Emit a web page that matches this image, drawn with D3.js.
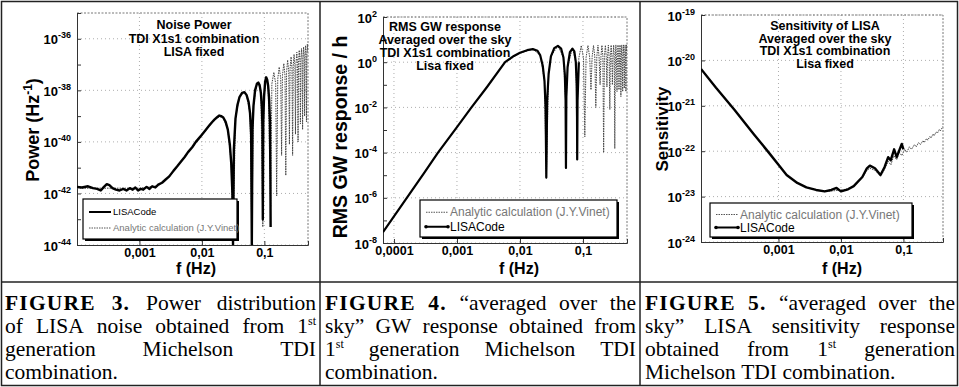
<!DOCTYPE html>
<html>
<head>
<meta charset="utf-8">
<script src="https://cdn.jsdelivr.net/npm/d3@7"></script>
<style>
  body { margin: 0; background: #fff; }
  svg { display: block; }
</style>
</head>
<body>
<div id="container"></div>
<script>
// ---------- Figure 3 : noise power ----------
const p1CodeF = [1e-4, 1.2e-4, 1.5e-4, 1.8e-4, 2.1e-4, 2.4e-4, 2.7e-4, 3.0e-4, 3.3e-4, 3.7e-4, 4.2e-4, 4.8e-4, 5.5e-4, 6.2e-4,
  7.0e-4, 7.8e-4, 8.6e-4, 9.5e-4, 1.05e-3, 1.15e-3, 1.3e-3, 1.45e-3, 1.6e-3, 1.8e-3, 2.0e-3, 2.3e-3, 2.6e-3, 3.0e-3,
  3.5e-3, 4.0e-3, 4.6e-3, 5.3e-3, 6.0e-3, 7.0e-3, 8.0e-3, 9.0e-3, 1.0e-2, 1.15e-2, 1.3e-2, 1.45e-2, 1.6e-2, 1.75e-2,
  1.9e-2, 2.05e-2, 2.2e-2, 2.4e-2, 2.6e-2, 2.8e-2, 2.95e-2, 3.08e-2, 3.15e-2, 3.25e-2, 3.45e-2, 3.7e-2, 4.0e-2, 4.4e-2,
  4.8e-2, 5.2e-2, 5.6e-2, 5.9e-2, 6.15e-2, 6.3e-2, 6.45e-2, 6.7e-2, 7.1e-2, 7.6e-2, 8.0e-2, 8.4e-2, 8.8e-2, 9.15e-2,
  9.35e-2, 9.45e-2, 9.6e-2, 9.9e-2, 0.103, 0.107, 0.111, 0.115, 0.119, 0.123, 0.125, 0.126];
const p1CodeP = [1.8e-42, 1.7e-42, 1.9e-42, 1.6e-42, 1.5e-42, 1.3e-42, 1.8e-42, 2.3e-42, 2.1e-42, 1.6e-42, 1.4e-42, 1.3e-42, 1.5e-42, 1.3e-42,
  1.6e-42, 1.4e-42, 1.7e-42, 1.3e-42, 1.5e-42, 1.4e-42, 1.8e-42, 1.5e-42, 1.9e-42, 1.7e-42, 2.2e-42, 2.6e-42, 3.4e-42, 4.6e-42,
  7.5e-42, 1.1e-41, 1.7e-41, 2.6e-41, 4e-41, 6.2e-41, 1e-40, 1.4e-40, 1.9e-40, 2.9e-40, 4.2e-40, 5.8e-40, 7.5e-40, 9e-40,
  1.05e-39, 1e-39, 8.8e-40, 6e-40, 3e-40, 8e-41, 1.5e-41, 1e-42, 1e-44, 5e-41, 8e-40, 2.6e-39, 5.5e-39, 8e-39,
  8.5e-39, 6.5e-39, 3.5e-39, 1.3e-39, 2e-40, 1e-44, 3e-40, 2.5e-39, 1e-38, 1.8e-38, 2e-38, 1.6e-38, 8e-39, 2e-39,
  3e-40, 1e-43, 6e-40, 6e-39, 2.2e-38, 3.2e-38, 2.6e-38, 1.5e-38, 5e-39, 6e-40, 4e-42, 5e-44];
const p1AnaF = [1e-4, 3e-4, 1e-3, 2e-3, 3e-3, 5e-3, 7e-3, 1e-2, 1.3e-2, 1.6e-2, 1.9e-2, 2.2e-2, 2.6e-2, 2.95e-2, 3.15e-2,
  3.45e-2, 4e-2, 4.6e-2, 5.2e-2, 5.9e-2, 6.3e-2, 6.7e-2, 7.6e-2, 8.0e-2, 8.8e-2, 9.45e-2, 9.9e-2, 0.107, 0.115, 0.126,
  0.132, 0.142, 0.152, 0.1575, 0.164, 0.173, 0.183, 0.189, 0.195, 0.205, 0.214, 0.2205, 0.227, 0.236, 0.246, 0.252,
  0.258, 0.268, 0.277, 0.2835, 0.290, 0.299, 0.309, 0.315, 0.321, 0.331, 0.340, 0.3465, 0.353, 0.362, 0.372, 0.378,
  0.384, 0.394, 0.403, 0.4095, 0.416, 0.425, 0.435, 0.441, 0.447, 0.457, 0.466, 0.4725, 0.479, 0.488, 0.5];
const p1AnaP = [1.6e-42, 1.6e-42, 1.6e-42, 2e-42, 4.3e-42, 2.2e-41, 6e-41, 1.8e-40, 4e-40, 7.2e-40, 9.5e-40, 8.5e-40, 3e-40, 1.5e-41, 1e-44,
  8e-40, 5.5e-39, 8e-39, 6.5e-39, 1.3e-39, 2e-44, 2.5e-39, 1.8e-38, 2e-38, 8e-39, 5e-44, 6e-39, 3.2e-38, 1.5e-38, 3e-43,
  1.8e-38, 5e-38, 1.8e-38, 8e-43, 2.8e-38, 8e-38, 2.8e-38, 3e-41, 3.8e-38, 1.1e-37, 3.8e-38, 5e-42, 5.2e-38, 1.5e-37, 5.2e-38, 8e-41,
  7e-38, 2e-37, 7e-38, 3e-41, 8.7e-38, 2.5e-37, 8.7e-38, 2e-40, 1e-37, 3e-37, 1e-37, 1e-40, 1.25e-37, 3.6e-37, 1.25e-37, 5e-40,
  1.45e-37, 4.2e-37, 1.45e-37, 3e-40, 1.7e-37, 4.8e-37, 1.7e-37, 1e-39, 1.9e-37, 5.5e-37, 1.9e-37, 6e-40, 2.2e-37, 6.2e-37, 3e-37];
const p1YTickExps = [-44, -43, -42, -41, -40, -39, -38, -37, -36, -35];
const p1YLabelExps = [-44, -42, -40, -38, -36];
const p1XTicks = [0.001, 0.01, 0.1];
const p1XLabels = ['0,001', '0,01', '0,1'];
const p1Title = ['Noise Power', 'TDI X1s1 combination', 'LISA fixed'];

// ---------- Figure 4 : RMS GW response ----------
const p2CodeF = [6.7e-5, 1e-4, 1.6e-4, 3e-4, 5e-4, 1e-3, 1.7e-3, 3e-3, 5.8e-3, 8e-3, 1e-2, 1.3e-2, 1.6e-2, 1.9e-2, 2.1e-2,
  2.3e-2, 2.45e-2, 2.55e-2, 2.62e-2, 2.7e-2, 2.85e-2, 3.1e-2, 3.5e-2, 4.0e-2, 4.5e-2, 4.9e-2, 5.15e-2, 5.3e-2, 5.37e-2,
  5.45e-2, 5.7e-2, 6.2e-2, 6.8e-2, 7.3e-2, 7.7e-2, 7.95e-2, 8.05e-2, 8.1e-2, 8.2e-2, 8.6e-2];
const p2CodeR = [3e-8, 1.5e-7, 1e-6, 1.25e-5, 1e-4, 1.35e-3, 1e-2, 8e-2, 1, 1.9, 2.6, 3.4, 3.8, 3.2, 2,
  0.7, 0.15, 1e-2, 8e-6, 2e-2, 0.3, 1.8, 4.2, 5.3, 4, 1.6, 0.3, 2e-2, 2.1e-5,
  3e-2, 0.6, 2.8, 4, 3, 1, 0.1, 4e-3, 5e-5, 2e-2, 1];
const p2AnaF = [6.7e-5, 1.6e-4, 5e-4, 1.7e-3, 5.8e-3, 1e-2, 1.6e-2, 2.1e-2, 2.45e-2, 2.62e-2, 2.85e-2, 3.1e-2, 4e-2, 4.9e-2,
  5.3e-2, 5.37e-2, 5.45e-2, 5.7e-2, 6.8e-2, 7.7e-2, 8.05e-2, 8.1e-2, 8.2e-2, 8.6e-2, 9.4e-2, 0.102, 0.107, 0.112, 0.120,
  0.128, 0.134, 0.140, 0.147, 0.154, 0.160, 0.166, 0.173, 0.180, 0.187, 0.193, 0.200, 0.207, 0.213, 0.219, 0.227, 0.234,
  0.240, 0.246, 0.253, 0.260, 0.267, 0.273, 0.280, 0.287, 0.293, 0.300, 0.307, 0.314, 0.320, 0.327, 0.333, 0.340, 0.347,
  0.353, 0.360, 0.367, 0.373, 0.380, 0.387, 0.394, 0.400, 0.407, 0.413, 0.420, 0.427, 0.433, 0.440, 0.447, 0.453, 0.460,
  0.467, 0.474, 0.480, 0.487, 0.493, 0.5];
const p2AnaR = [3e-8, 1e-6, 1e-4, 1e-2, 1, 2.5, 3.8, 2, 0.15, 7e-6, 0.3, 1.8, 5.3, 1.6,
  2e-2, 2e-5, 3e-2, 0.6, 4.2, 1, 4e-3, 5e-5, 2e-2, 1.5, 5.5, 1.5, 5e-4, 1.6, 5.5,
  1.6, 6e-2, 1.8, 5.5, 1.8, 1e-2, 1.8, 5.6, 1.8, 0.1, 1.8, 5.6, 1.8, 1e-4, 1.8, 5.6, 1.8,
  8e-2, 1.8, 5.7, 1.8, 8e-3, 1.8, 5.7, 1.8, 0.1, 1.8, 5.7, 1.8, 1.5e-4, 1.8, 5.8, 1.8, 5e-2,
  1.8, 5.8, 1.8, 6e-2, 1.8, 5.8, 1.8, 3e-2, 1.8, 5.8, 1.8, 5e-2, 1.8, 5.8, 1.8, 7e-2, 1.8,
  5.8, 1.8, 5e-2, 1.8, 5.8, 3];
const p2YTickExps = [-8, -7, -6, -5, -4, -3, -2, -1, 0, 1, 2];
const p2YLabelExps = [-8, -6, -4, -2, 0, 2];
const p2XTicks = [0.0001, 0.001, 0.01, 0.1];
const p2XLabels = ['0,0001', '0,001', '0,01', '0,1'];
const p2Title = ['RMS GW response', 'Averaged over the sky', 'TDI X1s1 combination', 'Lisa fixed'];

// ---------- Figure 5 : sensitivity ----------
const p3CodeF = [5.75e-5, 1e-4, 2e-4, 4e-4, 7e-4, 1e-3, 1.35e-3, 2e-3, 2.8e-3, 4e-3, 5.5e-3, 7e-3, 8.5e-3, 1e-2, 1.3e-2,
  1.6e-2, 2.2e-2, 2.6e-2, 2.9e-2, 3.5e-2, 4.3e-2, 5e-2, 5.7e-2, 6.25e-2, 7.1e-2, 7.8e-2, 9.4e-2, 0.1];
const p3CodeS = [6.5e-21, 2.5e-21, 8e-22, 2.4e-22, 9.3e-23, 5e-23, 3e-23, 2e-23, 1.6e-23, 1.4e-23, 1.3e-23, 1.4e-23, 1.55e-23, 1.3e-23, 1.45e-23,
  1.7e-23, 2.7e-23, 4.2e-23, 4.8e-23, 4.2e-23, 3e-23, 4.5e-23, 7.4e-23, 6.3e-23, 1.1e-22, 7.4e-23, 1.45e-22, 1.1e-22];
const p3AnaF = [5.75e-5, 1e-4, 2e-4, 4e-4, 7e-4, 1e-3, 1.35e-3, 2e-3, 2.8e-3, 4e-3, 5.5e-3, 8e-3, 1.2e-2, 1.6e-2, 2.2e-2,
  2.6e-2, 2.9e-2, 3.5e-2, 4.3e-2, 5e-2, 5.7e-2, 6.3e-2, 7e-2, 7.8e-2, 8.6e-2, 9.4e-2, 0.105, 0.113, 0.125, 0.135, 0.15,
  0.16, 0.175, 0.187, 0.205, 0.215, 0.235, 0.245, 0.265, 0.275, 0.3, 0.31, 0.335, 0.35, 0.375, 0.39, 0.43];
const p3AnaS = [6.5e-21, 2.5e-21, 8e-22, 2.4e-22, 9.3e-23, 5e-23, 3e-23, 2e-23, 1.6e-23, 1.4e-23, 1.3e-23, 1.35e-23, 1.45e-23, 1.7e-23, 2.6e-23,
  3.8e-23, 4.2e-23, 3.8e-23, 2.8e-23, 4e-23, 6e-23, 5e-23, 8e-23, 6.5e-23, 9.5e-23, 8e-23, 1.1e-22, 9.5e-23, 1.25e-22, 1.1e-22, 1.4e-22,
  1.25e-22, 1.55e-22, 1.4e-22, 1.7e-22, 1.55e-22, 1.9e-22, 1.75e-22, 2.1e-22, 1.95e-22, 2.4e-22, 2.2e-22, 2.65e-22, 2.5e-22, 3e-22, 2.8e-22, 3.5e-22];
const p3YTickExps = [-24, -23, -22, -21, -20, -19];
const p3YLabelExps = [-24, -23, -22, -21, -20, -19];
const p3XTicks = [0.001, 0.01, 0.1];
const p3XLabels = ['0,001', '0,01', '0,1'];
const p3Title = ['Sensitivity of LISA', 'Averaged over the sky', 'TDI X1s1 combination', 'Lisa fixed'];

const legendCode = 'LISACode';
const legendAna = 'Analytic calculation (J.Y.Vinet)';

// ---------- captions ----------
const captions = [
  ['**FIGURE** **3.** Power distribution', 'of LISA noise obtained from 1^st', 'generation Michelson TDI', 'combination.'],
  ['**FIGURE** **4.** \u201caveraged over the', 'sky\u201d GW response obtained from', '1^st generation Michelson TDI', 'combination.'],
  ['**FIGURE** **5.** \u201caveraged over the', 'sky\u201d LISA sensitivity response', 'obtained from 1^st generation', 'Michelson TDI combination.']
];

const W = 959, H = 387;
const sans = '"Liberation Sans", Arial, sans-serif';
const serif = '"Liberation Serif", "Times New Roman", serif';

const svg = d3.select('#container')
  .append('svg')
  .attr('width', W)
  .attr('height', H)
  .style('font-family', sans);

svg.append('rect').attr('width', W).attr('height', H).attr('fill', '#fff');

const zip = (a, b) => a.map((v, i) => [v, b[i]]);

const panels = [
  {
    id: 'p1', left: 77, right: 308, top: 13, bottom: 245,
    xDomain: [1e-4, 0.5], yDomain: [1e-44, 1e-35],
    code: zip(p1CodeF, p1CodeP), ana: zip(p1AnaF, p1AnaP),
    yTickExps: p1YTickExps, yLabelExps: p1YLabelExps, xTicks: p1XTicks, xLabels: p1XLabels,
    title: p1Title, titleX: 194, titleY: 29, titleStep: 13.5,
    yTitle: ['Power (Hz', '-1', ')'], yTitleSize: 18, yTitleX: 33, yTitleY: 130, xTitleX: 196,
    legendOrder: ['code', 'ana'], legend: {x: 83, y: 199, w: 154, h: 40, size: 9.5, markers: false},
    codeWidth: 2.4
  },
  {
    id: 'p2', left: 383, right: 627, top: 17, bottom: 243,
    xDomain: [6.7e-5, 0.5], yDomain: [1e-8, 1e2],
    code: zip(p2CodeF, p2CodeR), ana: zip(p2AnaF, p2AnaR),
    yTickExps: p2YTickExps, yLabelExps: p2YLabelExps, xTicks: p2XTicks, xLabels: p2XLabels,
    title: p2Title, titleX: 445, titleY: 31, titleStep: 13,
    yTitle: ['RMS GW response / h'], yTitleSize: 19.5, yTitleX: 340, yTitleY: 137, xTitleX: 519,
    legendOrder: ['ana', 'code'], legend: {x: 420, y: 200, w: 197, h: 37, size: 12, markers: true},
    codeWidth: 2.2
  },
  {
    id: 'p3', left: 701, right: 943, top: 15, bottom: 242,
    xDomain: [5.75e-5, 0.43], yDomain: [1e-24, 1e-19],
    code: zip(p3CodeF, p3CodeS), ana: zip(p3AnaF, p3AnaS),
    yTickExps: p3YTickExps, yLabelExps: p3YLabelExps, xTicks: p3XTicks, xLabels: p3XLabels,
    title: p3Title, titleX: 825, titleY: 30, titleStep: 12.5,
    yTitle: ['Sensitivity'], yTitleSize: 17, yTitleX: 662, yTitleY: 129, xTitleX: 842,
    legendOrder: ['ana', 'code'], legend: {x: 710, y: 203, w: 202, h: 34, size: 12, markers: true},
    codeWidth: 2.4
  }
];

const drawPanel = (p) => {
  const x = d3.scaleLog().domain(p.xDomain).range([p.left, p.right]);
  const y = d3.scaleLog().domain(p.yDomain).range([p.bottom, p.top]).clamp(true);
  const g = svg.append('g').attr('class', p.id);

  g.append('clipPath').attr('id', 'clip-' + p.id)
    .append('rect')
    .attr('x', p.left).attr('y', p.top)
    .attr('width', p.right - p.left).attr('height', p.bottom - p.top);

  // dotted grid at labelled decades
  g.append('g').selectAll('line')
    .data(p.yLabelExps.map(e => Math.pow(10, e)))
    .join('line')
    .attr('x1', p.left).attr('x2', p.right)
    .attr('y1', d => y(d)).attr('y2', d => y(d))
    .attr('stroke', '#999').attr('stroke-width', 0.8).attr('stroke-dasharray', '1,3');
  g.append('g').selectAll('line')
    .data(p.xTicks)
    .join('line')
    .attr('x1', d => x(d)).attr('x2', d => x(d))
    .attr('y1', p.top).attr('y2', p.bottom)
    .attr('stroke', '#999').attr('stroke-width', 0.8).attr('stroke-dasharray', '1,3');

  // top / right frame, dotted
  g.append('path')
    .attr('d', `M${p.left},${p.top}H${p.right}V${p.bottom}`)
    .attr('fill', 'none').attr('stroke', '#777').attr('stroke-dasharray', '2,1.5');

  // left axis
  const yAxis = g.append('g')
    .attr('transform', `translate(${p.left},0)`)
    .call(d3.axisLeft(y).tickValues(p.yTickExps.map(e => Math.pow(10, e))).tickSize(-4).tickFormat(''));
  yAxis.select('.domain').attr('stroke', '#333');
  yAxis.selectAll('.tick line').attr('stroke', '#333');
  yAxis.selectAll('.tick')
    .filter(d => p.yLabelExps.includes(Math.round(Math.log10(d))))
    .append('text')
    .attr('x', -6).attr('y', 0).attr('dy', 5)
    .attr('text-anchor', 'end')
    .attr('fill', '#000')
    .style('font-family', sans)
    .style('font-weight', 'bold')
    .each(function (d) {
      const t = d3.select(this);
      t.append('tspan').style('font-size', '13px').text('10');
      t.append('tspan').attr('dy', -6).style('font-size', '9px').text(String(Math.round(Math.log10(d))));
    });

  // bottom axis
  const xAxis = g.append('g')
    .attr('transform', `translate(0,${p.bottom})`)
    .call(d3.axisBottom(x).tickValues(p.xTicks).tickSize(-4)
      .tickFormat((d, i) => p.xLabels[i]));
  xAxis.select('.domain').attr('stroke', '#333');
  xAxis.selectAll('.tick line').attr('stroke', '#333');
  xAxis.selectAll('.tick text')
    .attr('y', 12).attr('dy', 0)
    .attr('fill', '#000')
    .style('font-family', sans)
    .style('font-size', '12.5px')
    .style('font-weight', 'bold');

  // curves
  const line = d3.line().x(d => x(d[0])).y(d => y(d[1]));
  const curves = g.append('g').attr('clip-path', `url(#clip-${p.id})`);
  curves.append('path')
    .datum(p.ana)
    .attr('d', line)
    .attr('fill', 'none')
    .attr('stroke', '#444')
    .attr('stroke-width', 1)
    .attr('stroke-dasharray', '1.5,1');
  curves.append('path')
    .datum(p.code)
    .attr('d', line)
    .attr('fill', 'none')
    .attr('stroke', '#000')
    .attr('stroke-width', p.codeWidth)
    .attr('stroke-linejoin', 'round');

  // title inside the plot
  g.append('g').selectAll('text')
    .data(p.title)
    .join('text')
    .attr('x', p.titleX)
    .attr('y', (d, i) => p.titleY + i * p.titleStep)
    .attr('text-anchor', 'middle')
    .style('font-size', '12.5px')
    .style('font-weight', 'bold')
    .text(d => d);

  // axis titles
  const yt = g.append('text')
    .attr('transform', `translate(${p.yTitleX},${p.yTitleY}) rotate(-90)`)
    .attr('text-anchor', 'middle')
    .attr('dy', '0.35em')
    .style('font-size', p.yTitleSize + 'px')
    .style('font-weight', 'bold');
  yt.append('tspan').text(p.yTitle[0]);
  if (p.yTitle.length > 1) {
    yt.append('tspan').attr('dy', -7).style('font-size', '12px').text(p.yTitle[1]);
    yt.append('tspan').attr('dy', 7).text(p.yTitle[2]);
  }
  g.append('text')
    .attr('x', p.xTitleX).attr('y', 274)
    .attr('text-anchor', 'middle')
    .style('font-size', '16px')
    .style('font-weight', 'bold')
    .text('f (Hz)');

  // legend
  const L = p.legend;
  const lg = g.append('g');
  lg.append('rect')
    .attr('x', L.x + 2).attr('y', L.y + 2).attr('width', L.w).attr('height', L.h)
    .attr('fill', '#000');
  lg.append('rect')
    .attr('x', L.x).attr('y', L.y).attr('width', L.w).attr('height', L.h)
    .attr('fill', '#fff').attr('stroke', '#000').attr('stroke-width', 1.2);
  const rowH = (L.h - 8) / 2;
  p.legendOrder.forEach((key, i) => {
    const cy = L.y + 4 + rowH * (i + 0.5) + 1;
    const isCode = key === 'code';
    lg.append('line')
      .attr('x1', L.x + 6).attr('x2', L.x + 28)
      .attr('y1', cy).attr('y2', cy)
      .attr('stroke', isCode ? '#000' : '#555')
      .attr('stroke-width', isCode ? 2 : 1)
      .attr('stroke-dasharray', isCode ? null : '1.5,1');
    if (isCode && L.markers) {
      lg.selectAll(null).data([L.x + 6, L.x + 28]).join('circle')
        .attr('cx', d => d).attr('cy', cy).attr('r', 1.8).attr('fill', '#000');
    }
    lg.append('text')
      .attr('x', L.x + 30).attr('y', cy).attr('dy', '0.35em')
      .attr('fill', isCode ? '#000' : '#777')
      .style('font-size', L.size + 'px')
      .text(isCode ? legendCode : legendAna);
  });
};

panels.forEach(drawPanel);

// ---------- table rules ----------
const rules = svg.append('g').attr('stroke', '#222').attr('stroke-width', 1.5);
rules.append('rect').attr('x', 1.5).attr('y', 1.5).attr('width', W - 3).attr('height', 384).attr('fill', 'none');
rules.append('line').attr('x1', 1.5).attr('x2', W - 1.5).attr('y1', 282).attr('y2', 282);
[320, 640].forEach(cx => rules.append('line').attr('x1', cx).attr('x2', cx).attr('y1', 1.5).attr('y2', 385.5));

// ---------- captions, justified ----------
const colX = [[5, 316], [325, 636], [645, 955]];
const baseY = [310, 333, 356, 379];
captions.forEach((lines, c) => {
  const [x0, x1] = colX[c];
  lines.forEach((ln, li) => {
    const words = ln.split(' ');
    const nodes = words.map(w => {
      const bold = w.startsWith('**');
      const raw = w.replace(/\*\*/g, '');
      const t = svg.append('text')
        .attr('y', baseY[li])
        .style('font-family', serif)
        .style('font-size', '21.5px')
        .style('font-weight', bold ? 'bold' : 'normal')
        .style('letter-spacing', bold ? '1.2px' : null);
      const parts = raw.split('^');
      t.append('tspan').text(parts[0]);
      if (parts.length > 1) t.append('tspan').attr('dy', -8).style('font-size', '12px').text(parts[1]);
      return t;
    });
    const widths = nodes.map(n => n.node().getComputedTextLength());
    const total = d3.sum(widths);
    const last = li === lines.length - 1;
    const gap = last ? 5.4 : (x1 - x0 - total) / (words.length - 1);
    let cx = x0;
    nodes.forEach((n, i) => {
      n.attr('x', cx);
      cx += widths[i] + gap;
    });
  });
});
</script>
</body>
</html>
